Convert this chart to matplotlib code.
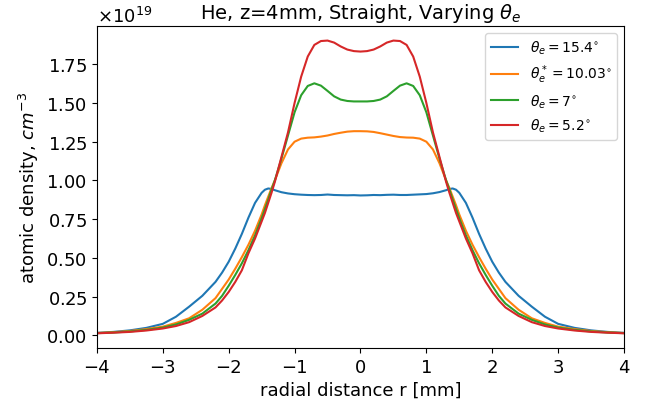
import matplotlib
matplotlib.use("Agg")
import matplotlib.pyplot as plt
import matplotlib.ticker as mticker
import numpy as np

# radial positions [mm]
r_mm = [-4.0, -3.75, -3.5, -3.25, -3.0, -2.8, -2.6, -2.4, -2.2, -2.1, -2.0, -1.9,
        -1.8, -1.7, -1.6, -1.5, -1.45, -1.4, -1.35, -1.3, -1.2, -1.1, -1.0, -0.9,
        -0.8, -0.7, -0.6, -0.5, -0.4, -0.3, -0.2, -0.1,
        0.0,
        0.1, 0.2, 0.3, 0.4, 0.5, 0.6, 0.7, 0.8, 0.9, 1.0, 1.1, 1.2,
        1.3, 1.35, 1.4, 1.45, 1.5, 1.6, 1.7, 1.8, 1.9, 2.0, 2.1, 2.2,
        2.4, 2.6, 2.8, 3.0, 3.25, 3.5, 3.75, 4.0]

# atomic density in units of 1e19 cm^-3
dens_15_4 = [0.016, 0.022, 0.032, 0.048, 0.074, 0.12, 0.185, 0.255, 0.345, 0.405, 0.475, 0.56,
             0.655, 0.76, 0.855, 0.92, 0.94, 0.948, 0.945, 0.937, 0.924, 0.916, 0.911, 0.908,
             0.906, 0.905, 0.906, 0.909, 0.906, 0.905, 0.904, 0.905,
             0.903,
             0.904, 0.906, 0.905, 0.907, 0.908, 0.906, 0.906, 0.908, 0.910, 0.912, 0.917, 0.925,
             0.937, 0.945, 0.948, 0.94, 0.92, 0.855, 0.76, 0.655, 0.56, 0.475, 0.405, 0.345,
             0.255, 0.185, 0.12, 0.074, 0.048, 0.032, 0.022, 0.016]
dens_10_03 = [0.015, 0.020, 0.028, 0.040, 0.056, 0.08, 0.11, 0.165, 0.24, 0.30, 0.36, 0.43,
              0.505, 0.585, 0.675, 0.78, 0.84, 0.895, 0.95, 1.0, 1.11, 1.20, 1.25, 1.27,
              1.276, 1.278, 1.283, 1.29, 1.30, 1.308, 1.315, 1.318,
              1.318,
              1.317, 1.313, 1.305, 1.296, 1.287, 1.280, 1.277, 1.276, 1.27, 1.25, 1.20, 1.11,
              1.0, 0.95, 0.895, 0.84, 0.78, 0.675, 0.585, 0.505, 0.43, 0.36, 0.30, 0.24,
              0.165, 0.11, 0.08, 0.056, 0.040, 0.028, 0.020, 0.015]
dens_7 = [0.014, 0.018, 0.025, 0.035, 0.05, 0.07, 0.10, 0.14, 0.205, 0.255, 0.32, 0.39,
          0.465, 0.55, 0.645, 0.755, 0.815, 0.875, 0.94, 1.0, 1.14, 1.29, 1.44, 1.55,
          1.61, 1.627, 1.612, 1.578, 1.543, 1.522, 1.513, 1.51,
          1.51,
          1.51, 1.513, 1.522, 1.543, 1.578, 1.612, 1.627, 1.61, 1.55, 1.44, 1.29, 1.14,
          1.0, 0.94, 0.875, 0.815, 0.755, 0.645, 0.55, 0.465, 0.39, 0.32, 0.255, 0.205,
          0.14, 0.10, 0.07, 0.05, 0.035, 0.025, 0.018, 0.014]
dens_5_2 = [0.013, 0.017, 0.022, 0.031, 0.044, 0.06, 0.085, 0.125, 0.18, 0.225, 0.28, 0.345,
            0.42, 0.53, 0.625, 0.735, 0.79, 0.855, 0.92, 0.99, 1.15, 1.31, 1.50, 1.67,
            1.80, 1.875, 1.90, 1.903, 1.89, 1.865, 1.845, 1.835,
            1.832,
            1.835, 1.845, 1.865, 1.89, 1.903, 1.90, 1.875, 1.80, 1.67, 1.50, 1.31, 1.15,
            0.99, 0.92, 0.855, 0.79, 0.735, 0.625, 0.53, 0.42, 0.345, 0.28, 0.225, 0.18,
            0.125, 0.085, 0.06, 0.044, 0.031, 0.022, 0.017, 0.013]

labels = [r"$\theta_e=15.4^{\circ}$", r"$\theta_e^*=10.03^{\circ}$",
          r"$\theta_e=7^{\circ}$", r"$\theta_e=5.2^{\circ}$"]
series = [dens_15_4, dens_10_03, dens_7, dens_5_2]

fig = plt.figure(figsize=(6.46, 4.02), dpi=100)
ax = fig.add_axes([0.150, 0.132, 0.816, 0.801])

for vals, lab in zip(series, labels):
    ax.plot(r_mm, np.array(vals) * 1e19, label=lab, lw=1.5)

ax.set_xlim(-4, 4)
ax.set_xticks(range(-4, 5))
ax.set_yticks(np.arange(0, 2.0, 0.25) * 1e19)
fmt = mticker.ScalarFormatter(useMathText=True)
fmt.set_powerlimits((0, 0))
ax.yaxis.set_major_formatter(fmt)
ax.tick_params(labelsize=13)
ax.yaxis.get_offset_text().set_fontsize(13)

ax.set_title(r"He, z=4mm, Straight, Varying $\theta_e$", fontsize=14)
ax.set_xlabel("radial distance r [mm]", fontsize=13)
ax.set_ylabel(r"atomic density, $cm^{-3}$", fontsize=13)
ax.legend(loc="upper right", fontsize=10)

fig.savefig("out.png", dpi=100)
